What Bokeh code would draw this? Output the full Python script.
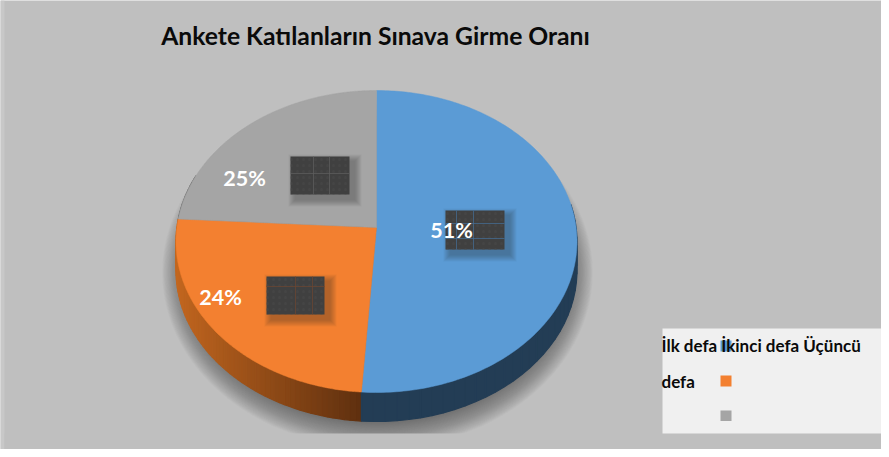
import numpy as np
from bokeh.plotting import figure
from bokeh.models import Range1d
from bokeh.core.properties import value
from bokeh.embed import file_html
from bokeh.resources import INLINE

# --- data ---
categories = ["İlk defa", "İkinci defa", "Üçüncü defa"]
shares = [51.1, 24.8, 24.1]          # slice extents as drawn
labels = ["51%", "24%", "25%"]
title_text = "Ankete Katılanların Sınava Girme Oranı"
legend_lines = ["İlk defa İkinci defa Üçüncü", "defa"]
colors = ["#5b9bd5", "#f38030", "#a5a5a5"]
side_from = ["#233d55", "#c2661f", "#6b6b6b"]
side_to = ["#233d55", "#5f300f", "#6b6b6b"]

W, H = 881, 449
CX, CY, RX, RY = 376.0, 241.0, 200.5, 151.0
APEX_Y, DEPTH, SQUASH = 227.0, 29.0, 0.755
BG = "#bfbfbf"

p = figure(width=W, height=H, x_range=Range1d(0, W), y_range=Range1d(H, 0),
           toolbar_location=None, output_backend="svg", min_border=0,
           outline_line_color=None, background_fill_color=BG, border_fill_color=BG)
p.axis.visible = False
p.grid.visible = False


def rim(angle):
    """Point where the ray at pie angle meets the perspective ellipse."""
    dx, dy = np.sin(angle), -np.cos(angle) * SQUASH
    oy = APEX_Y - CY
    a = (dx / RX) ** 2 + (dy / RY) ** 2
    b = 2 * oy * dy / RY ** 2
    c = (oy / RY) ** 2 - 1
    s = (-b + np.sqrt(b * b - 4 * a * c)) / (2 * a)
    return CX + s * dx, APEX_Y + s * dy


def hexmix(c1, c2, f):
    a = [int(c1[i:i + 2], 16) for i in (1, 3, 5)]
    b = [int(c2[i:i + 2], 16) for i in (1, 3, 5)]
    return "#%02x%02x%02x" % tuple(int(round(u + (v - u) * f)) for u, v in zip(a, b))


# lighter strip at the left page edge
p.quad(left=0, right=4, top=0, bottom=H, fill_color="#c8c8c8", line_color=None)

# soft shadow below the pie
th = np.linspace(0, 2 * np.pi, 240)
for k in range(36):
    grow = 36 - k
    p.patch(CX + 1 + (RX - 14 + grow * 0.8) * np.sin(th),
            CY + DEPTH + 2 + (RY - 6 + grow * 0.85) * np.cos(th),
            fill_color="#4a4a4a", fill_alpha=0.027, line_color=None)
p.quad(left=4, right=W, top=433, bottom=H, fill_color=BG, line_color=None)

# slice boundaries
cum = np.concatenate([[0], np.cumsum(shares)]) / np.sum(shares) * 2 * np.pi

# side wall, drawn as overlapping gradient strips
for i in range(len(shares) - 1, -1, -1):
    a = np.linspace(cum[i], cum[i + 1], 60)
    x, y = rim(a)
    vis = (a > np.pi * 0.45) & (a < np.pi * 1.62)
    idx = np.where(vis)[0]
    for j0, j1 in zip(idx[:-1], idx[1:]):
        f = float(np.clip((x[j0] - 176) / (362 - 176), 0, 1))
        col = hexmix(side_from[i], side_to[i], f)
        p.patch([x[j0], x[j1], x[j1], x[j0]],
                [y[j0], y[j1], y[j1] + DEPTH, y[j0] + DEPTH],
                fill_color=col, line_color=col, line_width=1.2)

# top face
for i in range(len(shares)):
    a = np.linspace(cum[i], cum[i + 1], 200)
    x, y = rim(a)
    p.patch(np.r_[CX, x], np.r_[APEX_Y, y], fill_color=colors[i], line_color=colors[i], line_width=0.5)

# dark label boxes
boxes = [(445, 504, 210, 249, [456, 473], [223, 238], "#456f98"),
         (266, 324, 276, 314, [295, 312], [286], "#6e4630"),
         (290, 349, 156, 194, [313, 329], [173], "#5f5f5f")]
for l, r, t, b, vs, hs, lc in boxes:
    for k in range(7):
        g = 7 - k
        p.quad(left=l + 5 - g, right=r + 5 + g, top=t + 5 - g, bottom=b + 5 + g,
               fill_color="#222222", fill_alpha=0.05, line_color=None)
    p.quad(left=l, right=r, top=t, bottom=b, fill_color="#404040", line_color=None,
           hatch_pattern="dot", hatch_color="#474747", hatch_scale=6, hatch_alpha=0.6)
    p.segment(x0=vs, x1=vs, y0=[t] * len(vs), y1=[b] * len(vs), line_color=lc, line_width=1, line_alpha=0.7)
    p.segment(x0=[l] * len(hs), x1=[r] * len(hs), y0=hs, y1=hs, line_color=lc, line_width=1, line_alpha=0.7)

# percentage labels
p.text(x=[451, 220, 244], y=[229, 296, 177], text=labels, text_color="white",
       text_font=value("Lato"), text_font_style="bold", text_font_size="21.5px",
       text_align="center", text_baseline="middle")

# title
p.text(x=[375], y=[35], text=[title_text], text_color="#0a0a0a",
       text_font=value("Lato"), text_font_style="bold", text_font_size="24.7px",
       text_align="center", text_baseline="middle")

# legend
p.quad(left=662, right=W, top=328, bottom=433, fill_color="#f0f0f0", line_color=None)
p.quad(left=[720, 720, 720], right=[731, 731, 731], top=[340, 375, 410], bottom=[351, 386, 420.5],
       fill_color=colors, line_color=None)
p.text(x=[661, 661], y=[345, 381], text=legend_lines, text_color="#0a0a0a",
       text_font=value("Lato"), text_font_style="bold", text_font_size="17px",
       text_align="left", text_baseline="middle")

open("out.html", "w").write(file_html(p, INLINE))
